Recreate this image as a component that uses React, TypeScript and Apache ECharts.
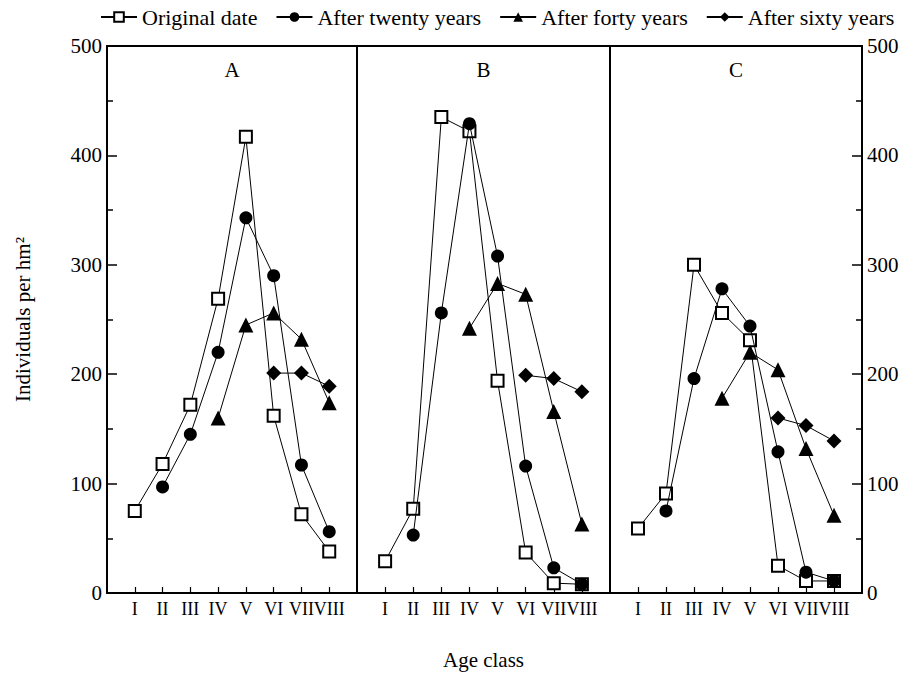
import React, { useEffect, useRef } from "react";
import * as echarts from "echarts";

const CATEGORIES = ["I", "II", "III", "IV", "V", "VI", "VII", "VIII"];
const PANEL_NAMES = ["A", "B", "C"];
const SERIES_NAMES = ["Original date", "After twenty years", "After forty years", "After sixty years"];
const Y_MIN = 0;
const Y_MAX = 500;
const Y_INTERVAL = 100;

const A_ORIGINAL = [75, 118, 172, 269, 417, 162, 72, 38];
const A_TWENTY = [null, 97, 145, 220, 343, 290, 117, 56];
const A_FORTY = [null, null, null, 160, 245, 256, 232, 174];
const A_SIXTY = [null, null, null, null, null, 201, 201, 189];

const B_ORIGINAL = [29, 77, 435, 422, 194, 37, 9, 8];
const B_TWENTY = [null, 53, 256, 429, 308, 116, 23, 8];
const B_FORTY = [null, null, null, 242, 283, 273, 166, 63];
const B_SIXTY = [null, null, null, null, null, 199, 196, 184];

const C_ORIGINAL = [59, 91, 300, 256, 231, 25, 11, 11];
const C_TWENTY = [null, 75, 196, 278, 244, 129, 19, 11];
const C_FORTY = [null, null, null, 178, 220, 204, 132, 71];
const C_SIXTY = [null, null, null, null, null, 160, 153, 139];

const PANEL_DATA = [
  [A_ORIGINAL, A_TWENTY, A_FORTY, A_SIXTY],
  [B_ORIGINAL, B_TWENTY, B_FORTY, B_SIXTY],
  [C_ORIGINAL, C_TWENTY, C_FORTY, C_SIXTY],
];

const FONT = "'Liberation Serif', 'DejaVu Serif', serif";

const SYMBOLS = [
  { symbol: "rect", size: 12, color: "#fff", borderWidth: 2 },
  { symbol: "circle", size: 13, color: "#000", borderWidth: 0 },
  { symbol: "triangle", size: 15, color: "#000", borderWidth: 0 },
  { symbol: "diamond", size: 15, color: "#000", borderWidth: 0 },
];

const GRIDS = [
  { left: 107, width: 250 },
  { left: 357, width: 253 },
  { left: 610, width: 252 },
];
const GRID_TOP = 46;
const GRID_HEIGHT = 547;

export default function App() {
  const ref = useRef<HTMLDivElement>(null);

  useEffect(() => {
    if (!ref.current) return;
    const chart = echarts.init(ref.current, null, { renderer: "svg" });

    const grid = GRIDS.map((g) => ({
      left: g.left,
      width: g.width,
      top: GRID_TOP,
      height: GRID_HEIGHT,
      show: true,
      borderColor: "#000",
      borderWidth: 2,
      backgroundColor: "transparent",
      containLabel: false,
      outerBoundsMode: "none",
    }));

    const xAxis = GRIDS.map((_, gi) => ({
      type: "value",
      gridIndex: gi,
      min: 0,
      max: CATEGORIES.length + 1,
      interval: 1,
      axisLine: { show: true, onZero: false, lineStyle: { color: "#000", width: 2 } },
      axisTick: { show: true, inside: true, length: 6, lineStyle: { color: "#000", width: 1.2 } },
      splitLine: { show: false },
      axisLabel: {
        color: "#000",
        fontFamily: FONT,
        fontSize: 18,
        margin: 7,
        showMinLabel: false,
        showMaxLabel: false,
        hideOverlap: false,
        formatter: (v: number) => CATEGORIES[v - 1] ?? "",
      },
      name: gi === 1 ? "Age class" : "",
      nameLocation: "middle",
      nameGap: 56,
      nameTextStyle: { color: "#000", fontFamily: FONT, fontSize: 21 },
    }));

    const yAxis = GRIDS.map((_, gi) => {
      const visible = gi !== 1;
      return {
        type: "value",
        gridIndex: gi,
        min: Y_MIN,
        max: Y_MAX,
        interval: Y_INTERVAL,
        position: gi === 2 ? "right" : "left",
        axisLine: { show: true, onZero: false, lineStyle: { color: "#000", width: 2 } },
        axisTick: { show: visible, inside: true, length: 10, lineStyle: { color: "#000", width: 1.5 } },
        minorTick: { show: visible, splitNumber: 2, length: 6, lineStyle: { color: "#000", width: 1.5 } },
        splitLine: { show: false },
        minorSplitLine: { show: false },
        axisLabel: {
          show: visible,
          color: "#000",
          fontFamily: FONT,
          fontSize: 21,
          margin: 5,
        },
        name: gi === 0 ? "Individuals per hm\u00B2" : "",
        nameLocation: "middle",
        nameRotate: 90,
        nameGap: 74,
        nameTextStyle: { color: "#000", fontFamily: FONT, fontSize: 21 },
      };
    });

    const series: any[] = [];
    PANEL_DATA.forEach((panel, gi) => {
      panel.forEach((values, si) => {
        const s = SYMBOLS[si];
        series.push({
          type: "line",
          name: SERIES_NAMES[si],
          xAxisIndex: gi,
          yAxisIndex: gi,
          data: values
            .map((v, i) => (v == null ? null : [i + 1, v]))
            .filter((d) => d !== null),
          symbol: s.symbol,
          symbolSize: s.size,
          showSymbol: true,
          lineStyle: { color: "#000", width: 1 },
          itemStyle: { color: s.color, borderColor: "#000", borderWidth: s.borderWidth, opacity: 1 },
          z: si === 0 ? 3 : 4,
          emphasis: { disabled: true },
        });
      });
    });

    const graphic = GRIDS.map((g, gi) => ({
      type: "text",
      x: g.left + g.width / 2,
      y: 70,
      style: {
        text: PANEL_NAMES[gi],
        fill: "#000",
        font: `21px ${FONT}`,
        textAlign: "center",
        textVerticalAlign: "middle",
      },
    }));

    chart.setOption({
      animation: false,
      backgroundColor: "#fff",
      legend: {
        data: SERIES_NAMES,
        top: 1,
        left: 95,
        itemWidth: 36,
        itemHeight: 12,
        itemGap: 18,
        textStyle: { color: "#000", fontFamily: FONT, fontSize: 22 },
      },
      grid,
      xAxis,
      yAxis,
      series,
      graphic,
    });

    return () => chart.dispose();
  }, []);

  return (
    <div
      ref={ref}
      style={{ position: "fixed", left: 0, top: 0, width: 901, height: 678, background: "#fff" }}
    />
  );
}
